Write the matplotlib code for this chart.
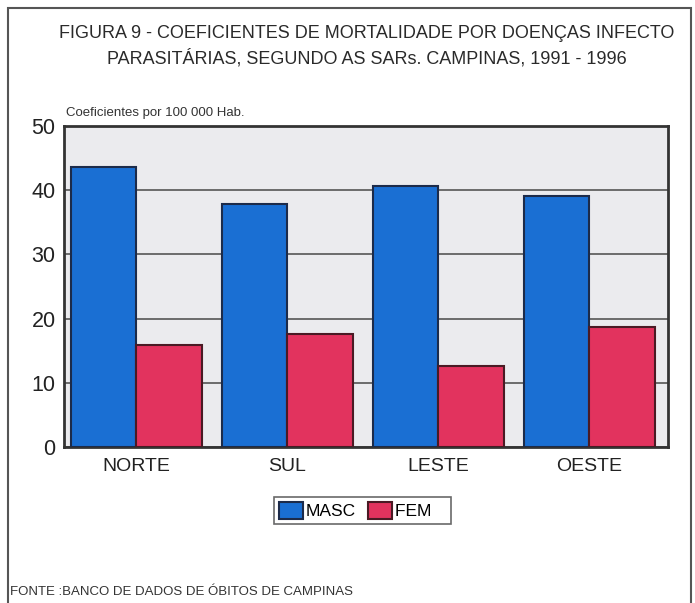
import matplotlib
matplotlib.use("Agg")
import matplotlib.pyplot as plt
import numpy as np
from matplotlib.patches import Rectangle

categories = ["NORTE", "SUL", "LESTE", "OESTE"]
masc = [43.6, 37.9, 40.7, 39.1]
fem = [15.9, 17.6, 12.6, 18.7]
yticks = [0, 10, 20, 30, 40, 50]

plt.rcParams['font.family'] = ['Liberation Sans', 'DejaVu Sans']

fig = plt.figure(figsize=(6.95, 6.03), dpi=100)
fig.patch.set_facecolor('white')

# outer frame
fig.add_artist(Rectangle((8/695, -0.01), (691-8)/695, 1 - 8/603 + 0.01,
                         transform=fig.transFigure, fill=False,
                         edgecolor='#555555', linewidth=1.5))

ax = fig.add_axes([64/695, 1-447/603, (668-64)/695, (447-126)/603])
ax.set_facecolor('#ebebee')
x = np.arange(len(categories))
w = 0.435
ax.bar(x - w/2, masc, width=w, color='#1a6fd3', edgecolor='#1c2b4a', linewidth=1.5,
       label='MASC', zorder=3)
ax.bar(x + w/2, fem, width=w, color='#e2335e', edgecolor='#4a1a24', linewidth=1.5,
       label='FEM   ', zorder=3)
ax.set_xlim(-0.48, 3.52)
ax.set_ylim(0, 50)
ax.set_yticks(yticks)
ax.set_yticklabels([str(t) for t in yticks], fontsize=15.5, color='#222222')
ax.set_xticks(x)
ax.set_xticklabels(categories, fontsize=14, color='#222222')
ax.tick_params(axis='y', length=0, pad=6)
ax.tick_params(axis='x', length=0, pad=8)
ax.yaxis.grid(True, color='#555555', linewidth=1.2, zorder=1)
for s in ax.spines.values():
    s.set_linewidth(2)
    s.set_color('#333333')

leg = ax.legend(loc='upper center', bbox_to_anchor=(0.494, -0.155), ncol=2,
                frameon=True, fancybox=False, edgecolor='#444444',
                fontsize=12.5, handlelength=1.4, handleheight=1.1,
                columnspacing=0.7, handletextpad=0.15, borderpad=0.3,
                borderaxespad=0)
leg.get_frame().set_linewidth(1.2)

fig.text(0.528, 1-33/603, "FIGURA 9 - COEFICIENTES DE MORTALIDADE POR DOENÇAS INFECTO",
         ha='center', va='center', fontsize=13, color='#2a2a2a')
fig.text(0.528, 1-58/603, "PARASITÁRIAS, SEGUNDO AS SARs. CAMPINAS, 1991 - 1996",
         ha='center', va='center', fontsize=13, color='#2a2a2a')
fig.text(66/695, 1-113/603, "Coeficientes por 100 000 Hab.", ha='left', va='center',
         fontsize=9.5, color='#333333')
fig.text(10/695, 1-592/603, "FONTE :BANCO DE DADOS DE ÓBITOS DE CAMPINAS", ha='left',
         va='center', fontsize=9.5, color='#333333')

fig.savefig("out.png", dpi=100)
